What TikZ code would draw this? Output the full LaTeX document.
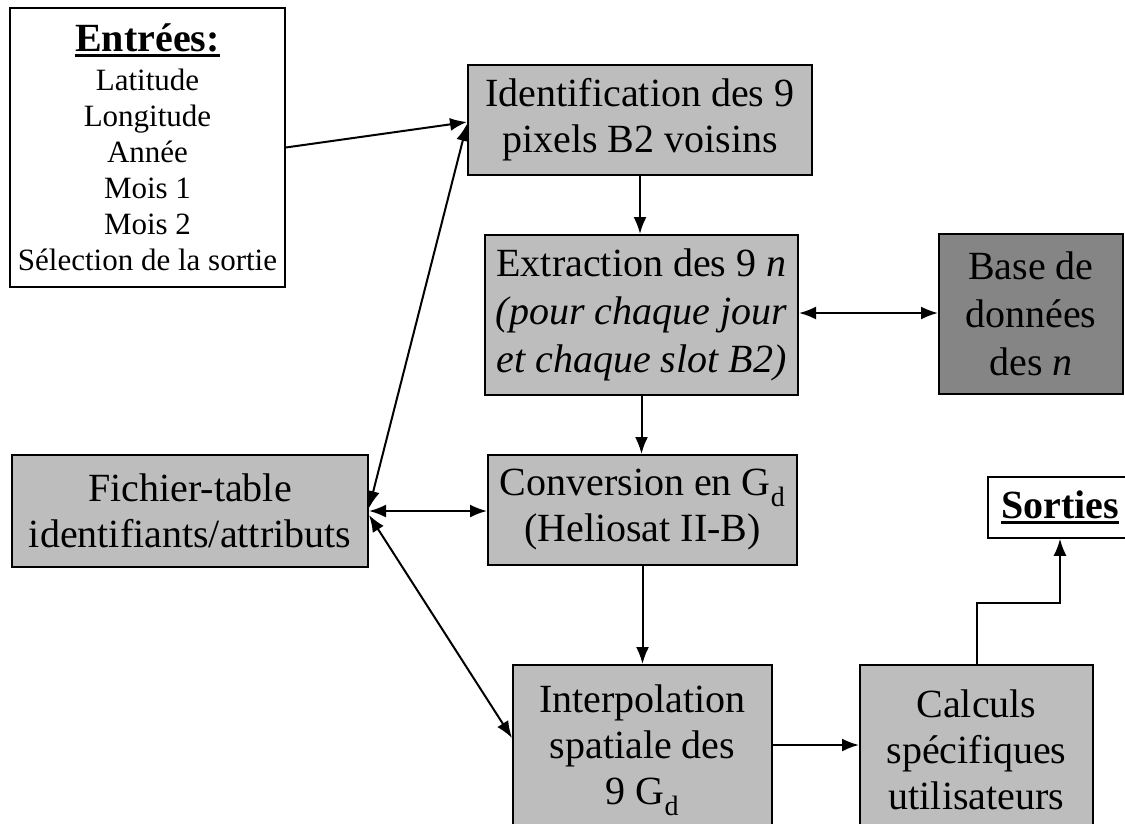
\documentclass[tikz,border=0pt]{standalone}
\usepackage{fontspec}
\setmainfont{Liberation Serif}
\usetikzlibrary{arrows.meta,calc}
\newcommand\thickul[1]{\setbox0\hbox{#1}\rlap{\rule[-5pt]{\wd0}{3pt}}\box0}
\definecolor{shade}{gray}{0.74}
\definecolor{darkshade}{gray}{0.52}
\tikzset{
  box/.style={draw=black, line width=2pt, fill=shade, align=center, inner sep=0pt,
              font=\fontsize{40}{46}\selectfont},
  whitebox/.style={draw=black, line width=1.5pt, fill=white, align=center, inner sep=0pt},
  conn/.style={line width=2pt, -{Latex[length=17pt,width=13pt]}},
  dbl/.style={line width=2pt, {Latex[length=17pt,width=13pt]}-{Latex[length=17pt,width=13pt]}},
}
\begin{document}
\begin{tikzpicture}[x=1pt,y=-1pt]
\useasboundingbox (0,0) rectangle (1125,823);
\clip (0,0) rectangle (1125,823);

\node[whitebox, minimum width=275pt, minimum height=279pt,
      font=\fontsize{31}{36}\selectfont] (entrees) at (147.5,147.5)
  {{\fontsize{40}{40}\selectfont\bfseries\thickul{Entrées:}}\\[3pt]
   Latitude\\Longitude\\Année\\Mois 1\\Mois 2\\Sélection de la sortie};

\node[box, minimum width=344pt, minimum height=110pt] (ident) at (640,120)
  {Identification des 9\\pixels B2 voisins};

\node[box, minimum width=313pt, minimum height=160pt, font=\fontsize{40}{48}\selectfont]
  (extraction) at (641.5,315)
  {Extraction des 9 \textit{n}\\\textit{(pour chaque jour}\\\textit{et chaque slot B2)}};

\node[box, fill=darkshade, minimum width=184pt, minimum height=160pt,
      font=\fontsize{40}{48}\selectfont] (base) at (1031,314)
  {Base de\\données\\des \textit{n}};

\node[box, minimum width=356pt, minimum height=112pt] (fichier) at (190,511)
  {Fichier-table\\identifiants/attributs};

\node[box, minimum width=309pt, minimum height=110pt] (conversion) at (642.5,510)
  {Conversion en G\textsubscript{d}\\(Heliosat II-B)};

\node[box, minimum width=259pt, minimum height=170pt] (interp) at (642.5,750)
  {Interpolation\\spatiale des\\9 G\textsubscript{d}};

\node[box, minimum width=233pt, minimum height=170pt] (calculs) at (976.5,750)
  {Calculs\\spécifiques\\utilisateurs};

\node[whitebox, minimum width=144pt, minimum height=61pt,
      font=\fontsize{40}{40}\selectfont\bfseries] (sorties) at (1060,507.5)
  {\thickul{Sorties}};

% connectors
\draw[conn] (entrees.east) -- ([yshift=-2pt]ident.west);
\draw[dbl] ([yshift=3pt]fichier.east) -- ([yshift=-4pt]ident.west);
\draw[dbl] (fichier.east) -- (fichier.east -| conversion.west);
\draw[dbl] ([yshift=-4pt]fichier.east) -- ([yshift=12pt]interp.west);
\draw[conn] (ident.south) -- (ident.south |- extraction.north);
\draw[dbl] ([yshift=2pt]extraction.east) -- ([yshift=2pt]extraction.east -| base.west);
\draw[conn] (extraction.south) -- (extraction.south |- conversion.north);
\draw[conn] (conversion.south) -- (conversion.south |- interp.north);
\draw[conn] ([yshift=5pt]interp.east) -- ([yshift=5pt]interp.east -| calculs.west);
\draw[conn] (calculs.north) |- ($(calculs.north)!0.49!(sorties.south)$) -| (sorties.south);
\end{tikzpicture}
\end{document}
